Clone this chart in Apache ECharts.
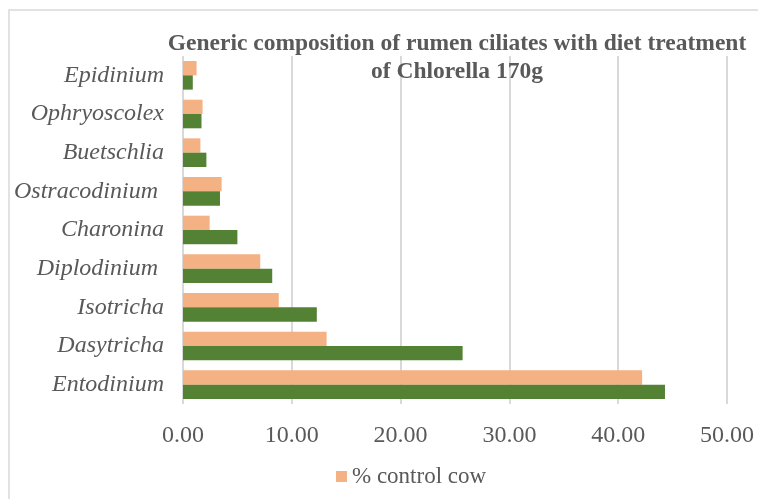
<!DOCTYPE html>
<html>
<head>
<meta charset="utf-8">
<script src="https://cdn.jsdelivr.net/npm/echarts@6/dist/echarts.min.js"></script>
<style>html,body{margin:0;padding:0;background:#fff}#c{width:758px;height:499px}</style>
</head>
<body>
<div id="c"></div>
<script>
const categories = ['Entodinium', 'Dasytricha', 'Isotricha', 'Diplodinium ', 'Charonina', 'Ostracodinium ', 'Buetschlia', 'Ophryoscolex', 'Epidinium'];
const chlorellaCow = [44.3, 25.7, 12.3, 8.2, 5.0, 3.4, 2.15, 1.7, 0.9];
const controlCow = [42.2, 13.2, 8.8, 7.1, 2.45, 3.55, 1.6, 1.8, 1.25];
const xTicks = [0, 10, 20, 30, 40, 50];

const chart = echarts.init(document.getElementById('c'), null, {renderer: 'canvas'});
const txt = '#595959';
chart.setOption({
  animation: false,
  backgroundColor: '#fff',
  title: {
    text: 'Generic composition of rumen ciliates with diet treatment\nof Chlorella 170g',
    left: 452, top: 25, textAlign: 'center',
    textStyle: {fontFamily: 'Liberation Serif', fontWeight: 'bold', fontSize: 23.5, color: txt, lineHeight: 28}
  },
  graphic: [{type: 'rect', shape: {x: 9, y: 10, width: 800, height: 600}, style: {fill: 'none', stroke: '#d9d9d9', lineWidth: 1.5}, silent: true}],
  legend: {
    data: ['% control cow'], left: 331, top: 460, itemWidth: 11, itemHeight: 11, icon: 'rect',
    textStyle: {fontFamily: 'Liberation Serif', fontSize: 23, color: txt}
  },
  grid: {left: 183, right: 31, top: 56, bottom: 95, containLabel: false},
  xAxis: {
    type: 'value', min: xTicks[0], max: xTicks[xTicks.length - 1], interval: 10,
    axisLine: {show: false}, axisTick: {show: false},
    splitLine: {lineStyle: {color: '#d9d9d9', width: 2}},
    axisLabel: {margin: 20, fontFamily: 'Liberation Serif', fontSize: 24, color: txt, formatter: v => v.toFixed(2)}
  },
  yAxis: {
    type: 'category', data: categories,
    axisLine: {show: false}, axisTick: {show: false},
    axisLabel: {margin: 19, fontFamily: 'Liberation Serif', fontStyle: 'italic', fontSize: 24, color: txt}
  },
  series: [
    {name: '% control cow', type: 'bar', data: controlCow, itemStyle: {color: '#f4b183'}, barGap: '0%', barCategoryGap: '26%'},
    {name: '% Chlorella cow', type: 'bar', data: chlorellaCow, itemStyle: {color: '#548235'}, barGap: '0%', barCategoryGap: '26%'}
  ]
});
</script>
</body>
</html>
